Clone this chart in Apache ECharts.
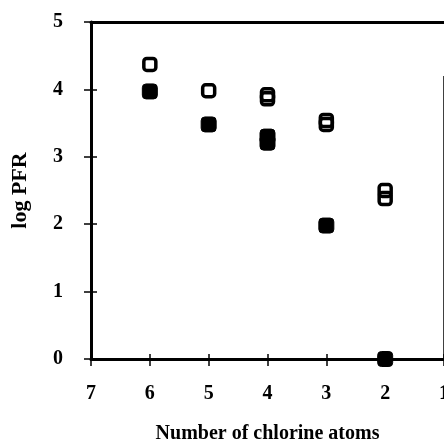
<!DOCTYPE html>
<html>
<head>
<meta charset="utf-8">
<script src="https://cdn.jsdelivr.net/npm/echarts@6/dist/echarts.min.js"></script>
<style>
html,body{margin:0;padding:0;background:#fff;}
#chart{width:444px;height:446px;}
</style>
</head>
<body>
<div id="chart"></div>
<script>
// Chlorine count vs. log PFR, two congener groups
const openX = [6, 5, 4, 4, 3, 3, 2, 2];
const openY = [4.37, 3.98, 3.86, 3.92, 3.48, 3.54, 2.38, 2.5];
const filledX = [6, 5, 4, 4, 3, 2];
const filledY = [3.97, 3.48, 3.3, 3.21, 1.98, 0];
const yTicks = [0, 1, 2, 3, 4, 5];
const xTicks = [1, 2, 3, 4, 5, 6, 7];
// right-hand frame segment (data units)
const frameRight = [[1, 0], [1, 4.2]];

const font = 'Liberation Serif';
const pair = (xs, ys) => xs.map((x, i) => [x, ys[i]]);

const chart = echarts.init(document.getElementById('chart'));
const baseX = {
  type: 'value', min: xTicks[0], max: xTicks[xTicks.length - 1], interval: 1,
  inverse: true, position: 'bottom', splitLine: {show: false}
};
const baseY = {
  type: 'value', min: yTicks[0], max: yTicks[yTicks.length - 1], interval: 1,
  position: 'left', splitLine: {show: false}
};
const labelStyle = {fontFamily: font, fontWeight: 'bold', fontSize: 20, color: '#000'};
chart.setOption({
  animation: false,
  backgroundColor: '#fff',
  grid: {left: 91, top: 22, right: 0, bottom: 87, show: false, outerBoundsMode: 'none'},
  xAxis: [
    Object.assign({}, baseX, {
      name: 'Number of chlorine atoms', nameLocation: 'middle', nameGap: 65,
      nameTextStyle: labelStyle,
      axisLine: {lineStyle: {color: '#000', width: 3}},
      axisTick: {inside: false, length: 7, lineStyle: {color: '#000', width: 1.5}},
      axisLabel: Object.assign({margin: 25, formatter: v => String(v)}, labelStyle)
    }),
    Object.assign({}, baseX, {
      axisLine: {show: false},
      axisTick: {inside: true, length: 5, lineStyle: {color: '#000', width: 1.5}},
      axisLabel: {show: false}
    }),
    Object.assign({}, baseX, {
      position: 'top',
      axisLine: {lineStyle: {color: '#000', width: 3}},
      axisTick: {show: false},
      axisLabel: {show: false}
    })
  ],
  yAxis: [
    Object.assign({}, baseY, {
      name: 'log PFR', nameLocation: 'middle', nameGap: 60,
      nameTextStyle: Object.assign({}, labelStyle, {fontSize: 22}),
      axisLine: {lineStyle: {color: '#000', width: 3}},
      axisTick: {inside: false, length: 7, lineStyle: {color: '#000', width: 1.5}},
      axisLabel: Object.assign({margin: 28}, labelStyle)
    }),
    Object.assign({}, baseY, {
      axisLine: {show: false},
      axisTick: {inside: true, length: 6, lineStyle: {color: '#000', width: 1.5}},
      axisLabel: {show: false}
    })
  ],
  series: [
    {
      type: 'scatter', xAxisIndex: 0, yAxisIndex: 0,
      data: pair(filledX, filledY),
      symbol: 'roundRect', symbolSize: 15,
      itemStyle: {color: '#000', borderColor: '#000', borderWidth: 1, opacity: 1},
      markLine: {
        silent: true, symbol: 'none', label: {show: false},
        lineStyle: {color: '#000', width: 1.5, type: 'solid'},
        data: [frameRight.map(c => ({coord: c}))]
      }
    },
    {
      type: 'scatter', xAxisIndex: 0, yAxisIndex: 0,
      data: pair(openX, openY),
      symbol: 'roundRect', symbolSize: 12,
      itemStyle: {color: 'rgba(255,255,255,0)', borderColor: '#000', borderWidth: 3.5, opacity: 1}
    }
  ]
});
</script>
</body>
</html>
